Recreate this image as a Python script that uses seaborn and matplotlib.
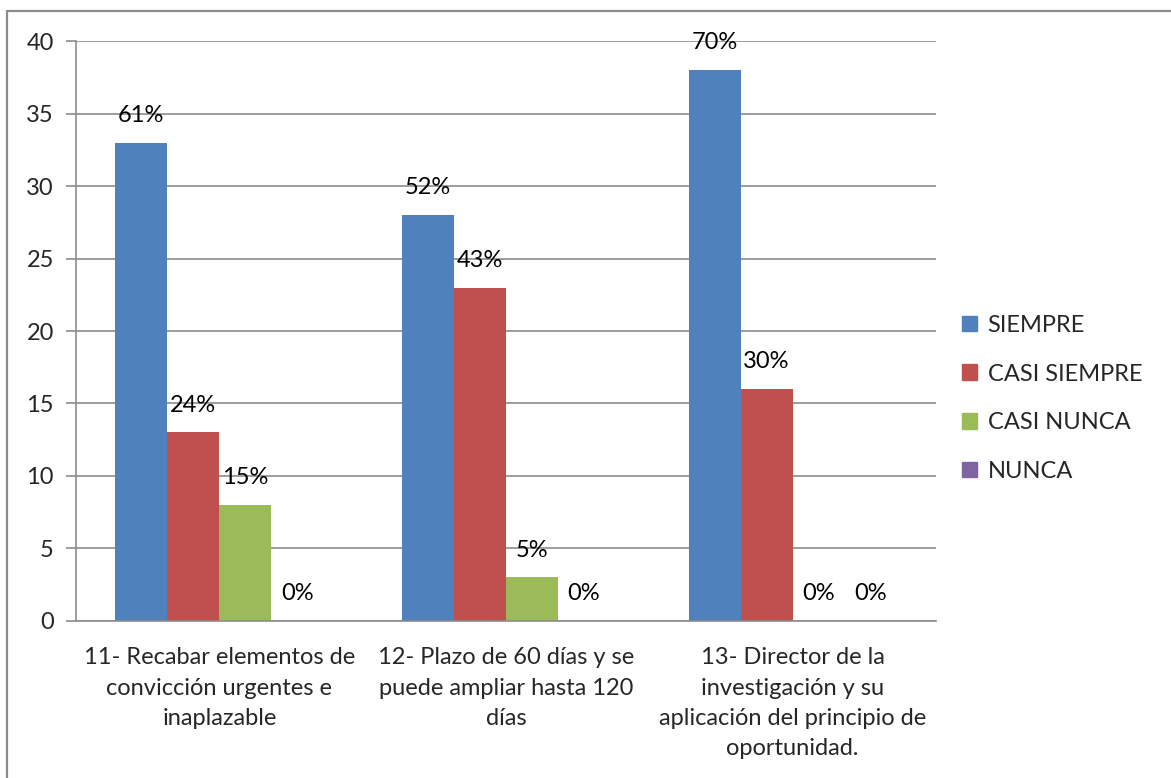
import matplotlib
matplotlib.use("Agg")
import matplotlib.pyplot as plt
import matplotlib.patches as mpatches
from matplotlib.lines import Line2D
import seaborn as sns
import pandas as pd

categories = [
    "11- Recabar elementos de\nconvicción urgentes e\ninaplazable",
    "12- Plazo de 60 días y se\npuede ampliar hasta 120\ndías",
    "13- Director de la\ninvestigación y su\naplicación del principio de\noportunidad.",
]
series_names = ["SIEMPRE", "CASI SIEMPRE", "CASI NUNCA", "NUNCA"]
siempre = [33, 28, 38]
casi_siempre = [13, 23, 16]
casi_nunca = [8, 3, 0]
nunca = [0, 0, 0]
pct_siempre = ["61%", "52%", "70%"]
pct_casi_siempre = ["24%", "43%", "30%"]
pct_casi_nunca = ["15%", "5%", "0%"]
pct_nunca = ["0%", "0%", "0%"]
colors = ["#4F81BD", "#C0504D", "#9BBB59", "#8064A2"]
yticks = [0, 5, 10, 15, 20, 25, 30, 35, 40]

values = [siempre, casi_siempre, casi_nunca, nunca]
pcts = [pct_siempre, pct_casi_siempre, pct_casi_nunca, pct_nunca]

rows = []
for s, vals in zip(series_names, values):
    for c, v in zip(categories, vals):
        rows.append({"cat": c, "serie": s, "val": v})
df = pd.DataFrame(rows)

sns.set_theme(style="white")
plt.rcParams["font.family"] = ["Lato", "DejaVu Sans"]

FS = 17

fig = plt.figure(figsize=(11.71, 7.78), dpi=100)
ax = fig.add_axes([0.0649, 0.2018, 0.7344, 0.7455])

sns.barplot(data=df, x="cat", y="val", hue="serie", hue_order=series_names,
            order=categories, palette=colors, width=0.725, ax=ax,
            saturation=1, legend=False, linewidth=0)

for cont, lab in zip(ax.containers, pcts):
    ax.bar_label(cont, labels=lab, padding=12, fontsize=FS, color="#000000")

ax.set_ylim(0, 40)
ax.set_xlim(-0.5, 2.5)
ax.set_yticks(yticks)
ax.set_yticklabels([str(t) for t in yticks], fontsize=FS)
ax.yaxis.grid(True, color="#8C8C8C", linewidth=1.2)
ax.set_axisbelow(True)
ax.set_xlabel("")
ax.set_ylabel("")

ax.set_xticks(range(len(categories)))
ax.set_xticklabels(categories, fontsize=FS, linespacing=1.55)
ax.set_xticks([-0.5, 0.5, 1.5, 2.5], minor=True)
ax.tick_params(axis="x", which="major", length=0, pad=19)
ax.tick_params(axis="x", which="minor", length=7, width=1.2, color="#8C8C8C", direction="out")
ax.tick_params(axis="y", length=7, width=1.2, color="#8C8C8C", direction="out", left=True, pad=9)

for side in ["top", "right"]:
    ax.spines[side].set_visible(False)
for side in ["left", "bottom"]:
    ax.spines[side].set_color("#8C8C8C")
    ax.spines[side].set_linewidth(1.2)

handles = [mpatches.Patch(color=c, label=s) for c, s in zip(colors, series_names)]
fig.legend(handles=handles, loc="center left", bbox_to_anchor=(0.803, 0.488),
           frameon=False, fontsize=FS, handlelength=0.65, handleheight=0.65,
           handletextpad=0.45, labelspacing=1.17)

x0 = 7 / 1171
y0 = 1 - 11 / 778
fig.add_artist(Line2D([x0, 1.0], [y0, y0], transform=fig.transFigure,
                      color="#8C8C8C", linewidth=1.6))
fig.add_artist(Line2D([x0, x0], [0.0, y0], transform=fig.transFigure,
                      color="#8C8C8C", linewidth=1.6))

fig.savefig("out.png", dpi=100, facecolor="white")
